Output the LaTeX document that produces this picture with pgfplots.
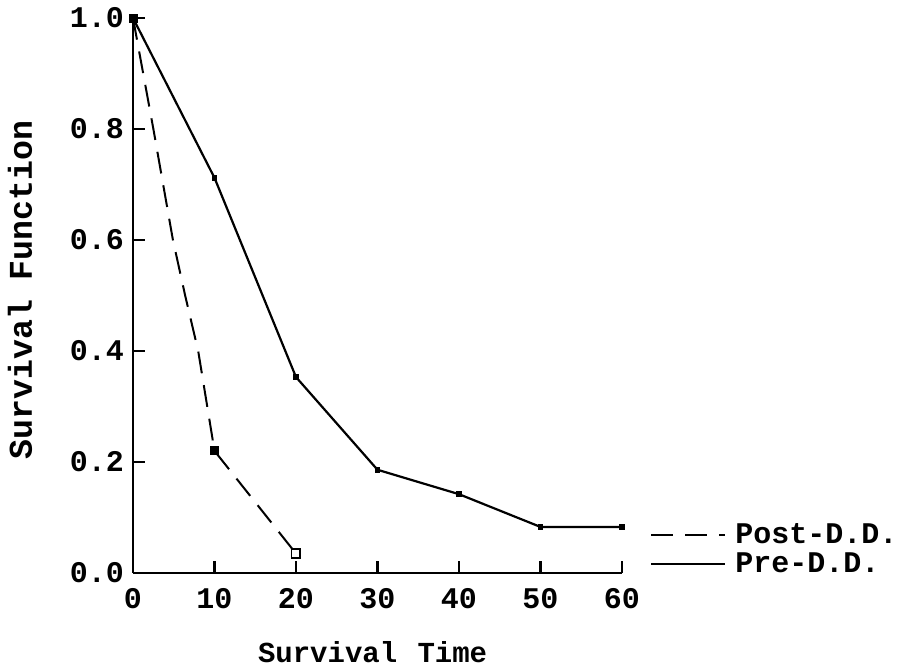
\documentclass[border=0pt]{standalone}
\usepackage{pgfplots}
\pgfplotsset{compat=1.18}
\usepackage{fontspec}
\setmainfont{Liberation Mono}
\begin{document}
\begin{tikzpicture}
\begin{axis}[
  scale only axis,
  width=244.5pt, height=277.5pt,
  xmin=0, xmax=60, ymin=0, ymax=1.0,
  axis x line=bottom, axis y line=left,
  axis line style={-, line width=1.4pt},
  tick align=inside,
  major tick length=6pt,
  tick style={line width=1.2pt, black},
  xtick={0,10,20,30,40,50,60},
  ytick={0,0.2,0.4,0.6,0.8,1.0},
  /pgf/number format/assume math mode=true,
  yticklabel style={/pgf/number format/fixed, /pgf/number format/fixed zerofill, /pgf/number format/precision=1, font=\fontsize{15pt}{17pt}\selectfont\bfseries, xshift=-1pt},
  xticklabel style={font=\fontsize{15pt}{17pt}\selectfont\bfseries, yshift=-4pt},
  xlabel={Survival\hspace{0.7em}Time},
  ylabel={Survival Function},
  xlabel style={at={(axis description cs:0.49,-0.142)}, anchor=center, font=\fontsize{14.5pt}{17pt}\selectfont\bfseries},
  ylabel style={at={(axis description cs:-0.231,0.51)}, anchor=center, font=\fontsize{16.6pt}{19pt}\selectfont\bfseries},
  clip=false,
  legend cell align=left,
  legend style={draw=none, fill=none, at={(1.057,0.043)}, anchor=west,
    font=\fontsize{15pt}{17pt}\selectfont\bfseries, row sep=0pt, inner sep=0pt,
    nodes={inner sep=1.5pt}},
  legend image code/.code={\draw[#1] (0pt,0pt) -- (37pt,0pt); \path (40pt,0pt);},
]
\addplot[black, line width=1pt, dash pattern=on 11pt off 6pt, mark=none]
  coordinates {(0,1.0) (2.5,0.8) (4.9,0.6) (6.4,0.5) (8,0.4) (10,0.22) (20,0.035)};
\addlegendentry{Post-D.D.}
\addplot[black, line width=1.1pt, mark=none]
  coordinates {(0,1.0) (10,0.712) (20,0.353) (30,0.186) (40,0.142) (50,0.083) (60,0.083)};
\addlegendentry{Pre-D.D.}
\addplot[only marks, mark=square*, mark size=2pt, black, forget plot]
  coordinates {(0,1.0) (10,0.22)};
\addplot[only marks, mark=square, mark size=2.2pt, black, line width=0.9pt, forget plot]
  coordinates {(20,0.035)};
\addplot[only marks, mark=square*, mark size=1.2pt, black, forget plot]
  coordinates {(10,0.712) (20,0.353) (30,0.186) (40,0.142) (50,0.083) (60,0.083)};
\end{axis}
\useasboundingbox (-66.5pt,-47pt) rectangle (389pt,286.5pt);
\end{tikzpicture}
\end{document}
